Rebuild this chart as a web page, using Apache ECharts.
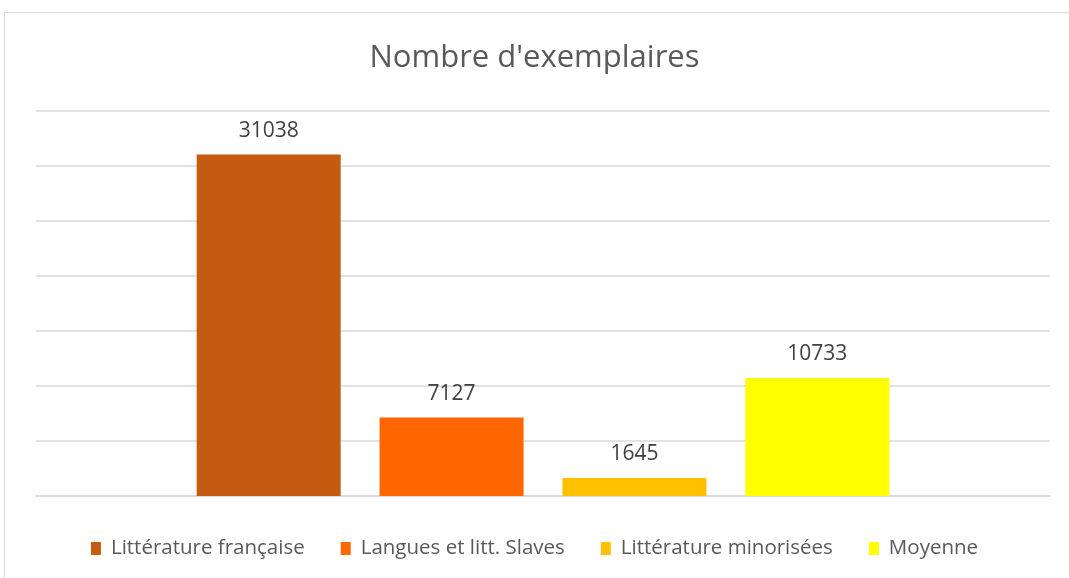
<!DOCTYPE html>
<html>
<head>
<meta charset="utf-8">
<script src="https://cdn.jsdelivr.net/npm/echarts@6/dist/echarts.min.js"></script>
<style>
  html, body { margin: 0; padding: 0; background: #fff; }
  #chart { width: 1069px; height: 578px; }
</style>
</head>
<body>
<div id="chart"></div>
<script>
const seriesNames = ['Littérature française', 'Langues et litt. Slaves', 'Littérature minorisées', 'Moyenne'];
const seriesValues = [31038, 7127, 1645, 10733];
const seriesColors = ['#C55A11', '#FF6600', '#FFC000', '#FFFF00'];
const categories = [''];

const chart = echarts.init(document.getElementById('chart'));

const font = '"Open Sans", "Noto Sans", sans-serif';

const option = {
    animation: false,
    textStyle: { fontFamily: font },
    graphic: [{
        type: 'rect',
        shape: { x: 4.5, y: 12.5, width: 1080, height: 600 },
        style: { fill: 'none', stroke: '#d9d9d9', lineWidth: 1 },
        silent: true
    }],
    title: {
        text: "Nombre d'exemplaires",
        left: 'center',
        top: 38,
        textStyle: { fontSize: 31, fontWeight: 'normal', color: '#595959', fontFamily: font }
    },
    grid: { left: 36, right: 19, top: 111, bottom: 82 },
    legend: {
        data: seriesNames,
        bottom: 14,
        left: 'center',
        itemWidth: 10,
        itemHeight: 13,
        itemGap: 36,
        icon: 'rect',
        textStyle: { fontSize: 20.5, color: '#595959', fontFamily: font, padding: [0, 0, 0, 5] }
    },
    xAxis: {
        type: 'category',
        data: categories,
        axisLine: { lineStyle: { color: '#d9d9d9', width: 1.5 } },
        axisTick: { show: false },
        axisLabel: { show: false }
    },
    yAxis: {
        type: 'value',
        min: 0,
        max: 35000,
        interval: 5000,
        axisLabel: { show: false },
        axisLine: { show: false },
        axisTick: { show: false },
        splitLine: { lineStyle: { color: '#d9d9d9', width: 1.5 } }
    },
    series: seriesNames.map((name, i) => ({
        name: name,
        type: 'bar',
        data: [seriesValues[i]],
        barWidth: 144,
        barGap: '27%',
        itemStyle: { color: seriesColors[i] },
        label: {
            show: true,
            position: 'top',
            distance: 13,
            fontSize: 21,
            color: '#404040',
            fontFamily: font
        }
    }))
};

chart.setOption(option);
</script>
</body>
</html>
